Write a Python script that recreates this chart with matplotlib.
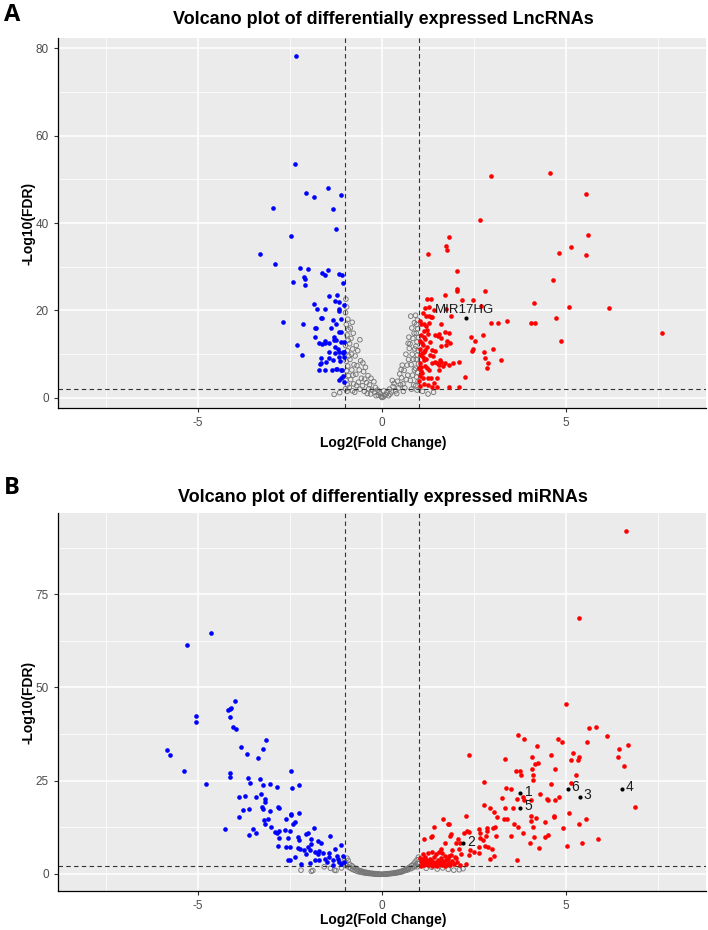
import matplotlib
matplotlib.use('Agg')
from matplotlib import pyplot as plt
from matplotlib.ticker import MultipleLocator

plt.rcParams['axes.unicode_minus'] = False

# ---- panel A: LncRNAs (log2FC, -log10 FDR) ----
a_down = [(-2.33, 78.3), (-2.35, 53.4), (-2.06, 46.9), (-1.85, 45.9), (-1.47, 47.9), (-1.11, 46.3),
          (-2.97, 43.4), (-1.32, 43.1), (-1.25, 38.6), (-2.46, 37.1), (-3.32, 33.0), (-2.91, 30.7),
          (-2.24, 29.6), (-2.0, 29.4), (-2.13, 27.6), (-2.1, 27.2), (-2.43, 26.4), (-2.08, 25.8),
          (-1.64, 28.6), (-1.56, 28.1), (-1.47, 29.2), (-1.16, 28.4), (-1.09, 28.1), (-1.05, 26.2),
          (-1.45, 23.2), (-1.22, 23.6), (-1.28, 22.1), (-1.17, 21.9), (-1.02, 21.2), (-1.85, 21.4),
          (-1.77, 20.4), (-1.54, 20.4), (-1.17, 20.4), (-1.16, 19.8), (-1.64, 18.3), (-1.11, 18.1),
          (-2.69, 17.4), (-2.15, 16.8), (-1.24, 16.9), (-1.8, 16.0), (-1.39, 15.9), (-1.17, 15.0),
          (-1.31, 13.9), (-1.54, 13.0), (-1.31, 13.2), (-1.11, 12.9), (-1.02, 12.9), (-1.64, 12.3),
          (-2.3, 12.1), (-1.19, 11.3), (-1.18, 10.5), (-1.45, 10.5), (-1.29, 10.2), (-1.07, 10.5),
          (-1.02, 10.4), (-2.17, 9.9), (-1.44, 9.2), (-1.67, 9.2), (-1.14, 8.4), (-1.69, 7.8),
          (-1.02, 9.3), (-1.56, 6.5), (-1.37, 6.5), (-1.23, 6.7), (-1.08, 6.5), (-1.05, 5.1),
          (-1.18, 4.1), (-1.02, 3.7), (-1.81, 15.9), (-1.65, 18.3), (-1.34, 17.8), (-1.11, 15.1),
          (-1.25, 13.2), (-1.43, 12.5), (-1.29, 11.7), (-1.07, 10.2), (-1.17, 9.4), (-1.34, 8.7),
          (-1.52, 8.3), (-1.65, 7.9), (-1.7, 6.4), (-1.25, 6.7), (-1.11, 6.4), (-1.56, 12.5),
          (-1.7, 12.5), (-1.83, 14.0), (-1.11, 4.5)]

a_up = [(2.96, 50.7), (4.56, 51.5), (5.53, 46.6), (5.6, 37.2), (2.67, 40.6), (1.81, 36.9),
        (1.74, 34.8), (1.76, 33.9), (1.25, 32.9), (5.12, 34.6), (4.82, 33.1), (5.53, 32.6),
        (2.05, 29.0), (4.65, 27.0), (2.04, 24.8), (2.03, 24.5), (2.81, 24.5), (1.7, 23.5),
        (1.23, 22.6), (1.33, 22.7), (4.12, 21.7), (2.16, 22.3), (2.48, 22.3), (5.09, 20.8),
        (6.16, 20.6), (1.27, 20.8), (1.74, 20.3), (1.88, 18.7), (2.7, 21.0), (4.72, 18.3),
        (2.96, 17.2), (3.14, 17.2), (3.4, 17.5), (4.04, 17.2), (4.16, 17.2), (7.61, 14.9),
        (4.87, 13.1), (2.74, 14.4), (2.41, 14.0), (2.53, 13.1), (2.44, 10.8), (2.48, 11.3),
        (3.01, 11.2), (2.76, 10.6), (2.79, 9.2), (3.23, 8.7), (2.88, 7.9), (2.86, 6.9),
        (2.1, 8.3), (1.92, 8.1), (1.82, 7.6), (2.25, 4.9), (1.81, 2.6), (2.09, 2.6),
        (1.06, 16.8), (1.13, 16.8), (1.19, 16.5), (1.27, 18.8), (1.32, 18.6), (1.36, 18.6),
        (1.19, 18.8), (1.41, 20.2), (1.22, 15.5), (1.14, 15.2), (1.06, 14.3), (1.13, 14.0),
        (1.25, 14.6), (1.45, 14.4), (1.6, 16.8), (1.54, 14.7), (1.51, 14.1), (1.61, 13.8),
        (1.72, 15.0), (1.81, 14.8), (1.84, 12.5), (1.77, 13.1), (1.73, 12.2), (1.04, 11.3),
        (1.12, 12.1), (1.18, 11.0), (1.22, 11.6), (1.02, 9.8), (1.09, 10.2), (1.04, 8.0),
        (1.13, 8.7), (1.18, 7.2), (1.07, 6.1), (1.22, 6.8), (1.28, 6.5), (1.36, 8.0),
        (1.45, 8.3), (1.49, 8.1), (1.54, 6.5), (1.58, 8.7), (1.61, 8.3), (1.02, 5.0),
        (1.14, 3.2), (1.25, 4.6), (1.34, 4.6), (1.41, 3.5), (1.49, 4.6), (1.37, 2.6),
        (1.09, 5.7), (1.0, 3.8), (1.0, 6.8), (1.11, 9.3), (1.31, 9.8), (1.39, 9.5),
        (1.54, 7.6), (1.67, 7.2), (1.7, 8.0), (1.03, 13.0), (1.08, 12.5), (1.15, 10.5),
        (1.2, 9.0), (1.05, 7.0), (1.1, 4.5), (1.3, 12.8), (1.02, 17.5), (1.16, 20.5),
        (1.1, 19.5), (1.35, 11.0), (1.45, 10.8), (1.25, 2.9), (1.5, 2.5), (1.03, 2.8),
        (1.6, 11.8), (1.17, 13.5), (1.28, 17.2)]

a_ns = [(-0.98, 22.6), (-0.96, 20.8), (-0.99, 19.5), (-0.93, 18.0), (-0.97, 16.8), (-0.91, 15.6),
        (-0.95, 14.4), (-0.92, 13.2), (-0.99, 12.0), (-0.94, 10.8), (-0.9, 9.6), (-0.97, 8.4),
        (-0.93, 7.3), (-0.96, 6.2), (-0.91, 5.1), (-0.98, 4.0), (-0.94, 3.0), (-0.99, 2.1),
        (-0.95, 1.5), (-0.81, 17.3), (-0.86, 16.0), (-0.78, 14.8), (-0.84, 13.6), (-0.88, 12.4),
        (-0.8, 11.2), (-0.83, 10.0), (-0.87, 8.8), (-0.76, 7.6), (-0.82, 6.4), (-0.79, 5.2),
        (-0.85, 4.2), (-0.77, 3.2), (-0.89, 2.4), (-0.8, 1.6), (-0.6, 13.3), (-0.7, 12.0),
        (-0.66, 10.8), (-0.73, 9.6), (-0.58, 8.5), (-0.68, 7.4), (-0.62, 6.4), (-0.71, 5.4),
        (-0.56, 4.5), (-0.64, 3.6), (-0.69, 2.8), (-0.6, 2.0), (-0.74, 1.3), (-0.52, 8.0),
        (-0.45, 7.0), (-0.5, 6.0), (-0.38, 5.1), (-0.47, 4.3), (-0.42, 3.5), (-0.53, 2.8),
        (-0.36, 2.1), (-0.48, 1.5), (-0.4, 1.0), (-0.3, 4.5), (-0.22, 3.7), (-0.34, 3.0),
        (-0.18, 2.4), (-0.27, 1.8), (-0.2, 1.3), (-0.31, 0.9), (-0.16, 0.5), (-0.12, 1.8),
        (-0.08, 1.3), (-0.05, 0.9), (-0.1, 0.6), (-0.02, 0.3), (0.0, 0.1), (0.03, 0.2),
        (0.07, 0.5), (0.1, 0.8), (0.13, 1.2), (0.05, 1.6), (0.18, 0.5), (0.22, 0.9),
        (0.26, 1.4), (0.2, 2.0), (0.3, 2.6), (0.33, 3.3), (0.28, 4.0), (0.4, 1.0),
        (0.37, 1.6), (0.45, 2.3), (0.5, 3.0), (0.42, 3.8), (0.53, 4.6), (0.48, 5.5),
        (0.52, 6.5), (0.55, 7.5), (0.58, 1.5), (0.62, 2.3), (0.57, 3.2), (0.66, 4.2),
        (0.7, 5.2), (0.6, 6.3), (0.68, 7.5), (0.72, 8.8), (0.65, 10.0), (0.74, 11.3),
        (0.71, 12.5), (0.73, 13.9), (0.8, 2.0), (0.86, 3.0), (0.77, 4.0), (0.83, 5.2),
        (0.88, 6.4), (0.79, 7.6), (0.85, 8.8), (0.82, 10.0), (0.89, 11.2), (0.76, 12.4),
        (0.84, 13.6), (0.87, 14.8), (0.81, 16.0), (0.88, 17.2), (0.78, 18.7), (0.95, 1.8),
        (0.92, 2.8), (0.98, 3.8), (0.94, 4.8), (0.97, 5.8), (0.91, 6.8), (0.99, 7.8),
        (0.93, 8.8), (0.96, 9.8), (0.98, 10.8), (0.92, 11.8), (0.95, 12.8), (0.99, 13.8),
        (0.93, 14.8), (0.97, 15.8), (0.94, 16.8), (0.96, 17.8), (0.91, 18.9), (-1.15, 1.2),
        (-1.3, 0.8), (1.1, 1.5), (1.25, 0.9), (1.4, 1.3)]

a_marked = [(2.27, 18.3)]
a_marked_text = ['MIR17HG']

# ---- panel B: miRNAs ----
b_down = [(-4.65, 64.6), (-5.29, 61.5), (-3.99, 46.3), (-4.14, 44.2), (-4.09, 44.4), (-4.18, 43.9),
          (-4.12, 42.0), (-5.04, 42.3), (-5.06, 40.8), (-4.04, 39.3), (-3.97, 38.8), (-3.14, 35.8),
          (-3.22, 33.5), (-3.84, 34.0), (-3.66, 32.2), (-3.38, 31.0), (-5.83, 33.2), (-5.75, 31.9),
          (-5.37, 27.7), (-4.78, 24.1), (-4.12, 27.1), (-4.14, 25.9), (-2.46, 27.7), (-2.44, 23.0),
          (-2.26, 23.8), (-3.63, 25.6), (-3.58, 24.3), (-3.32, 25.4), (-3.22, 23.8), (-3.05, 24.1),
          (-2.86, 23.4), (-3.88, 20.5), (-3.71, 20.9), (-3.43, 20.5), (-3.28, 21.5), (-3.18, 20.0),
          (-3.17, 19.4), (-3.77, 17.2), (-3.62, 17.5), (-3.26, 18.0), (-3.24, 17.5), (-3.05, 16.9),
          (-2.82, 18.0), (-2.79, 17.6), (-3.88, 15.2), (-3.21, 14.4), (-3.09, 14.6), (-3.17, 13.5),
          (-2.61, 14.6), (-2.48, 15.8), (-2.46, 16.1), (-2.26, 16.2), (-2.37, 13.9), (-2.42, 13.5),
          (-4.27, 12.0), (-3.51, 12.0), (-3.61, 10.5), (-3.41, 11.0), (-3.01, 12.5), (-2.91, 11.3),
          (-2.86, 11.0), (-2.81, 11.5), (-2.81, 9.6), (-2.64, 11.8), (-2.5, 11.6), (-2.54, 9.6),
          (-2.82, 7.6), (-2.61, 7.2), (-2.5, 7.2), (-2.56, 3.6), (-2.51, 3.6), (-2.29, 9.8),
          (-2.25, 9.2), (-2.07, 10.8), (-2.01, 11.0), (-1.86, 12.2), (-2.28, 7.0), (-2.24, 6.6),
          (-2.01, 7.2), (-1.92, 9.3), (-1.94, 8.1), (-1.73, 8.8), (-1.67, 8.4), (-1.42, 10.2),
          (-2.36, 4.6), (-2.12, 6.3), (-2.07, 5.4), (-1.96, 6.3), (-1.83, 5.8), (-1.7, 6.1),
          (-1.74, 5.3), (-1.61, 5.7), (-1.83, 3.8), (-1.7, 3.8), (-1.55, 4.0), (-1.43, 5.7),
          (-1.44, 4.4), (-1.33, 3.6), (-1.22, 4.8), (-1.27, 6.6), (-1.11, 7.8), (-1.07, 4.7),
          (-1.16, 3.2), (-1.2, 4.1), (-1.11, 2.7), (-1.02, 3.3), (-2.2, 2.7), (-1.96, 3.0),
          (-1.32, 2.5), (-1.5, 3.3)]

b_up = [(6.63, 92.1), (5.36, 68.7), (5.0, 45.6), (5.62, 39.0), (5.8, 39.5), (6.1, 37.0),
        (4.78, 36.1), (4.9, 35.4), (5.56, 35.4), (3.7, 37.2), (3.85, 36.2), (4.22, 34.2),
        (6.43, 33.6), (6.68, 34.6), (2.36, 31.9), (3.35, 30.7), (4.08, 31.3), (4.6, 31.9),
        (5.19, 32.4), (5.35, 31.3), (5.31, 30.6), (5.12, 30.6), (4.15, 29.4), (4.23, 29.8),
        (6.4, 31.3), (6.57, 29.0), (4.7, 28.1), (3.64, 27.6), (3.75, 27.5), (3.77, 26.5),
        (4.08, 28.1), (4.11, 26.4), (4.09, 25.3), (5.28, 26.4), (2.78, 24.6), (4.6, 24.1),
        (5.12, 24.3), (3.37, 23.0), (3.5, 22.8), (6.86, 18.0), (4.29, 21.4), (4.47, 20.2),
        (4.52, 19.8), (4.81, 20.6), (4.7, 19.9), (3.68, 20.2), (3.84, 20.5), (3.87, 19.9),
        (4.06, 19.8), (3.25, 20.3), (3.55, 17.8), (3.33, 17.8), (3.04, 16.5), (2.78, 18.4),
        (2.94, 17.7), (3.11, 15.3), (3.3, 14.6), (3.4, 14.8), (3.58, 13.5), (3.7, 12.7),
        (3.82, 11.0), (4.04, 15.4), (4.06, 14.2), (4.19, 15.0), (4.42, 13.8), (4.66, 15.4),
        (4.68, 15.2), (4.92, 12.2), (5.08, 16.4), (5.36, 13.3), (5.54, 14.8), (5.44, 8.3),
        (5.02, 7.6), (5.87, 9.3), (4.1, 12.6), (4.14, 9.9), (4.26, 7.0), (4.01, 8.3),
        (4.44, 9.9), (4.5, 10.3), (3.68, 3.8), (2.29, 15.6), (2.35, 11.1), (2.3, 11.5),
        (2.23, 11.0), (2.64, 12.1), (2.67, 11.0), (2.84, 12.4), (2.86, 11.4), (3.01, 12.4),
        (3.06, 12.6), (3.1, 10.2), (3.5, 10.1), (2.65, 9.7), (2.75, 9.2), (2.82, 10.2),
        (2.87, 7.2), (2.99, 6.7), (3.03, 4.9), (2.92, 3.9), (2.8, 7.4), (2.64, 5.7),
        (2.64, 7.2), (2.49, 5.8), (2.38, 6.4), (2.37, 5.1), (2.29, 2.6), (1.67, 14.7),
        (1.78, 13.3), (1.83, 13.3), (1.42, 12.5), (1.87, 10.8), (2.06, 9.3), (2.02, 8.2),
        (1.7, 8.3), (1.36, 10.1), (1.14, 9.3), (1.91, 6.5), (2.09, 6.6), (2.15, 5.3),
        (1.61, 6.6), (1.46, 5.3), (1.83, 4.8), (2.01, 4.3), (1.64, 5.5), (1.34, 9.9),
        (1.85, 10.1), (2.12, 8.3), (1.03, 4.2), (1.05, 3.5), (1.08, 2.8), (1.1, 3.9),
        (1.13, 2.5), (1.15, 3.2), (1.18, 4.4), (1.2, 2.9), (1.22, 3.6), (1.25, 2.3),
        (1.27, 3.0), (1.3, 4.0), (1.32, 2.6), (1.35, 3.4), (1.37, 2.2), (1.4, 3.0),
        (1.42, 4.6), (1.45, 2.5), (1.47, 3.3), (1.5, 2.1), (1.52, 3.8), (1.55, 2.7),
        (1.58, 3.1), (1.6, 4.3), (1.62, 2.4), (1.65, 3.5), (1.68, 2.9), (1.7, 4.9),
        (1.72, 2.2), (1.75, 3.7), (1.78, 2.6), (1.8, 4.1), (1.83, 3.0), (1.85, 2.3),
        (1.88, 5.0), (1.9, 3.4), (1.95, 2.7), (1.98, 4.4), (1.12, 5.2), (1.25, 5.5),
        (1.35, 6.0), (1.55, 5.8), (2.05, 3.2), (2.12, 2.5), (1.06, 2.2)]

b_ns = [(-1.02, 3.5), (-0.98, 2.8), (-0.95, 4.2), (-0.97, 2.2), (-0.92, 3.6), (-0.9, 1.8),
        (-0.88, 2.6), (-0.85, 1.5), (-0.82, 2.2), (-0.8, 1.2), (-0.78, 1.8), (-0.75, 1.0),
        (-0.72, 1.5), (-0.7, 0.8), (-0.67, 1.2), (-0.65, 0.6), (-0.62, 0.9), (-0.6, 0.5),
        (-0.57, 0.8), (-0.55, 0.4), (-0.52, 0.6), (-0.5, 0.3), (-0.47, 0.5), (-0.45, 0.2),
        (-0.42, 0.4), (-0.4, 0.15), (-0.37, 0.3), (-0.35, 0.1), (-0.32, 0.2), (-0.3, 0.05),
        (-0.27, 0.15), (-0.25, 0.0), (-0.22, 0.1), (-0.2, -0.05), (-0.17, 0.05), (-0.15, -0.1),
        (-0.12, 0.0), (-0.1, -0.1), (-0.07, -0.05), (-0.05, -0.15), (-0.02, -0.1), (0.02, -0.1),
        (0.05, -0.05), (0.08, -0.12), (0.1, 0.0), (0.13, -0.05), (0.15, 0.05), (0.18, 0.0),
        (0.2, 0.1), (0.23, 0.05), (0.25, 0.15), (0.28, 0.1), (0.3, 0.2), (0.33, 0.15),
        (0.35, 0.3), (0.38, 0.25), (0.4, 0.4), (0.43, 0.3), (0.45, 0.5), (0.48, 0.45),
        (0.5, 0.6), (0.53, 0.5), (0.55, 0.8), (0.58, 0.7), (0.6, 1.0), (0.63, 0.9),
        (0.65, 1.2), (0.68, 1.0), (0.7, 1.5), (0.72, 1.2), (0.75, 1.8), (0.78, 1.4),
        (0.8, 2.2), (0.82, 1.6), (0.85, 2.6), (0.88, 1.9), (0.9, 3.2), (0.92, 2.3),
        (0.95, 3.8), (0.97, 2.8), (0.99, 4.5), (0.96, 1.9), (-2.2, 1.0), (-1.92, 0.7),
        (-1.88, 0.9), (-1.57, 1.9), (-1.29, 1.0), (-1.25, 0.9), (-1.4, 1.5), (-1.1, 1.6),
        (1.2, 1.5), (1.5, 1.3), (1.8, 1.2), (1.95, 1.0), (2.1, 1.1), (2.2, 1.4),
        (1.35, 1.8), (1.65, 1.6)]

b_marked = [(3.76, 21.6), (2.20, 8.2), (5.37, 20.7), (6.51, 22.9), (3.76, 17.8), (5.04, 22.8)]
b_marked_text = ['1', '2', '3', '4', '5', '6']

FONT = 'Liberation Sans'


def volcano(ax, down, up, ns, marked, marked_text, ylim, ymajor, label_size):
    ax.set_facecolor('#EBEBEB')
    ax.set_xlim(-8.8, 8.8)
    ax.set_ylim(*ylim)
    ax.xaxis.set_major_locator(MultipleLocator(5))
    ax.xaxis.set_minor_locator(MultipleLocator(2.5))
    ax.yaxis.set_major_locator(MultipleLocator(ymajor))
    ax.yaxis.set_minor_locator(MultipleLocator(ymajor / 2))
    ax.grid(which='major', color='white', lw=1.1)
    ax.grid(which='minor', color='white', lw=0.55)
    ax.set_axisbelow(True)
    for s in ['top', 'right']:
        ax.spines[s].set_visible(False)
    for s in ['left', 'bottom']:
        ax.spines[s].set_color('black')
        ax.spines[s].set_linewidth(0.9)
    ax.tick_params(which='major', length=3, color='#333333', labelcolor='#4D4D4D',
                   labelsize=8.5, width=0.8)
    ax.tick_params(which='minor', length=0)
    for lab in ax.get_xticklabels() + ax.get_yticklabels():
        lab.set_family(FONT)

    ax.scatter([p[0] for p in ns], [p[1] for p in ns], s=11, facecolors='none',
               edgecolors='#777777', linewidths=0.65, zorder=2)
    ax.scatter([p[0] for p in down], [p[1] for p in down], s=11, color='#0000FF',
               linewidths=0, zorder=3)
    ax.scatter([p[0] for p in up], [p[1] for p in up], s=11, color='#FF0000',
               linewidths=0, zorder=3)
    ax.scatter([p[0] for p in marked], [p[1] for p in marked], s=9, color='black',
               linewidths=0, zorder=4)

    ax.axvline(-1, color='#333333', ls=(0, (4, 3)), lw=0.8, zorder=2.5)
    ax.axvline(1, color='#333333', ls=(0, (4, 3)), lw=0.8, zorder=2.5)
    ax.axhline(2, color='#333333', ls=(0, (4, 3)), lw=0.8, zorder=2.5)

    for (x, y), t in zip(marked, marked_text):
        off = (-22, 6) if len(t) > 2 else (3, 1)
        ax.annotate(t, (x, y), xytext=off, textcoords='offset points',
                    fontsize=label_size, color='#1A1A1A', family=FONT,
                    ha='left', va='center', zorder=5)


fig = plt.figure(figsize=(7.08, 9.30), dpi=100)
ax1 = fig.add_axes([0.0819, 0.5613, 0.9153, 0.3978])
ax2 = fig.add_axes([0.0819, 0.0419, 0.9153, 0.4065])

volcano(ax1, a_down, a_up, a_ns, a_marked, a_marked_text, (-2.3, 82.3), 20, 9.5)
volcano(ax2, b_down, b_up, b_ns, b_marked, b_marked_text, (-4.6, 96.8), 25, 10)

fig.text(0.541, 1 - 20 / 930, 'Volcano plot of differentially expressed LncRNAs',
         ha='center', va='center', fontsize=13, fontweight='bold', family=FONT)
fig.text(0.541, 1 - 497 / 930, 'Volcano plot of differentially expressed miRNAs',
         ha='center', va='center', fontsize=13, fontweight='bold', family=FONT)
fig.text(0.541, 1 - 443 / 930, 'Log2(Fold Change)', ha='center', va='center',
         fontsize=10, fontweight='bold', family=FONT)
fig.text(0.541, 1 - 920 / 930, 'Log2(Fold Change)', ha='center', va='center',
         fontsize=10, fontweight='bold', family=FONT)
fig.text(28 / 708, 1 - 223 / 930, '-Log10(FDR)', ha='center', va='center', rotation=90,
         fontsize=10, fontweight='bold', family=FONT)
fig.text(28 / 708, 1 - 702 / 930, '-Log10(FDR)', ha='center', va='center', rotation=90,
         fontsize=10, fontweight='bold', family=FONT)
fig.text(4 / 708, 1 - 15 / 930, 'A', ha='left', va='center', fontsize=17,
         fontweight='bold', family='Open Sans')
fig.text(4 / 708, 1 - 488 / 930, 'B', ha='left', va='center', fontsize=17,
         fontweight='bold', family='Open Sans')

fig.savefig('out.png', dpi=100)
